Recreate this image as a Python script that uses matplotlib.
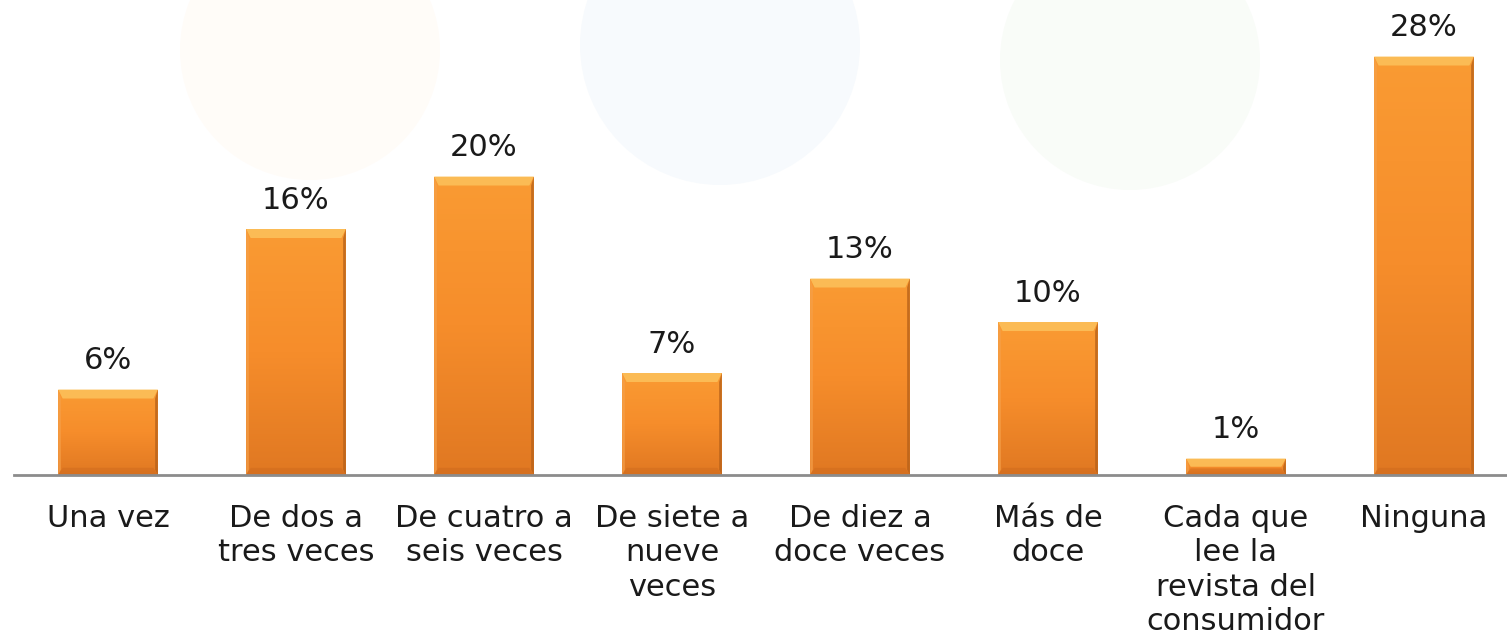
import numpy as np
import matplotlib.pyplot as plt
from matplotlib.patches import Circle, Polygon
from matplotlib.colors import LinearSegmentedColormap

categories = [
    "Una vez",
    "De dos a\ntres veces",
    "De cuatro a\nseis veces",
    "De siete a\nnueve\nveces",
    "De diez a\ndoce veces",
    "Más de\ndoce",
    "Cada que\nlee la\nrevista del\nconsumidor",
    "Ninguna",
]
values = [5.7, 16.4, 19.9, 6.8, 13.1, 10.2, 1.1, 27.9]
labels = ["6%", "16%", "20%", "7%", "13%", "10%", "1%", "28%"]

W, H, DPI = 1507, 643, 100
fig = plt.figure(figsize=(W / DPI, H / DPI), dpi=DPI)
fig.patch.set_facecolor("white")

# faint watermark circles in the background
for (cx, cy, r, col) in [(310, 50, 130, "#fffcf8"), (720, 45, 140, "#f7fafd"), (1130, 60, 130, "#f9fcf8")]:
    fig.patches.append(Circle((cx / DPI, (H - cy) / DPI), r / DPI, transform=fig.dpi_scale_trans,
                              facecolor=col, edgecolor="none", zorder=0))

base_y = 475
ax = fig.add_axes([14 / W, 1 - base_y / H, 1504 / W, base_y / H])
ax.patch.set_alpha(0)

x = np.arange(len(categories))
bars = ax.bar(x, values, width=0.53, color="#f68d2b", edgecolor="none", zorder=2)

ax.set_xlim(-0.5, len(categories) - 0.5)
ax.set_ylim(0, base_y / 15.0)

# gradient + bevel on each bar
grad = np.linspace(0, 1, 256).reshape(-1, 1)
cmap = LinearSegmentedColormap.from_list("bar", ["#e07822", "#f68d2b", "#fa9b33"])
for b in bars:
    x0, w, h = b.get_x(), b.get_width(), b.get_height()
    im = ax.imshow(grad, cmap=cmap, aspect="auto", origin="lower",
                   extent=(x0, x0 + w, 0, h), zorder=3)
    im.set_clip_path(b)
    bx = 0.045 * w
    by = min(9 / 15.0, h / 2)
    ax.add_patch(Polygon([(x0, h), (x0 + w, h), (x0 + w - bx, h - by), (x0 + bx, h - by)],
                         closed=True, facecolor="#fcc25c", edgecolor="none", alpha=0.85, zorder=4))
    ax.add_patch(Polygon([(x0 + w, h), (x0 + w, 0), (x0 + w - bx * 0.6, by * 0.6), (x0 + w - bx * 0.6, h - by)],
                         closed=True, facecolor="#b8621a", edgecolor="none", alpha=0.8, zorder=4))
    ax.add_patch(Polygon([(x0, h), (x0, 0), (x0 + bx * 0.6, by * 0.6), (x0 + bx * 0.6, h - by)],
                         closed=True, facecolor="#f5a04a", edgecolor="none", alpha=0.7, zorder=4))
    ax.add_patch(Polygon([(x0, 0), (x0 + w, 0), (x0 + w - bx, by * 0.8), (x0 + bx, by * 0.8)],
                         closed=True, facecolor="#c9661c", edgecolor="none", alpha=0.4, zorder=4))

for b, lab in zip(bars, labels):
    ax.annotate(lab, (b.get_x() + b.get_width() / 2, b.get_height()),
                xytext=(0, 14.5), textcoords="offset points",
                ha="center", va="baseline", fontsize=22, color="#1a1a1a")

for s in ["top", "right", "left"]:
    ax.spines[s].set_visible(False)
ax.spines["bottom"].set_color("#8c8c8c")
ax.spines["bottom"].set_linewidth(2)
ax.spines["bottom"].set_zorder(5)
ax.set_yticks([])
ax.set_xticks(x)
ax.set_xticklabels(categories, fontsize=22, color="#1a1a1a", linespacing=1.23)
ax.tick_params(axis="x", length=0, pad=21)

fig.savefig("out.png", dpi=DPI)
